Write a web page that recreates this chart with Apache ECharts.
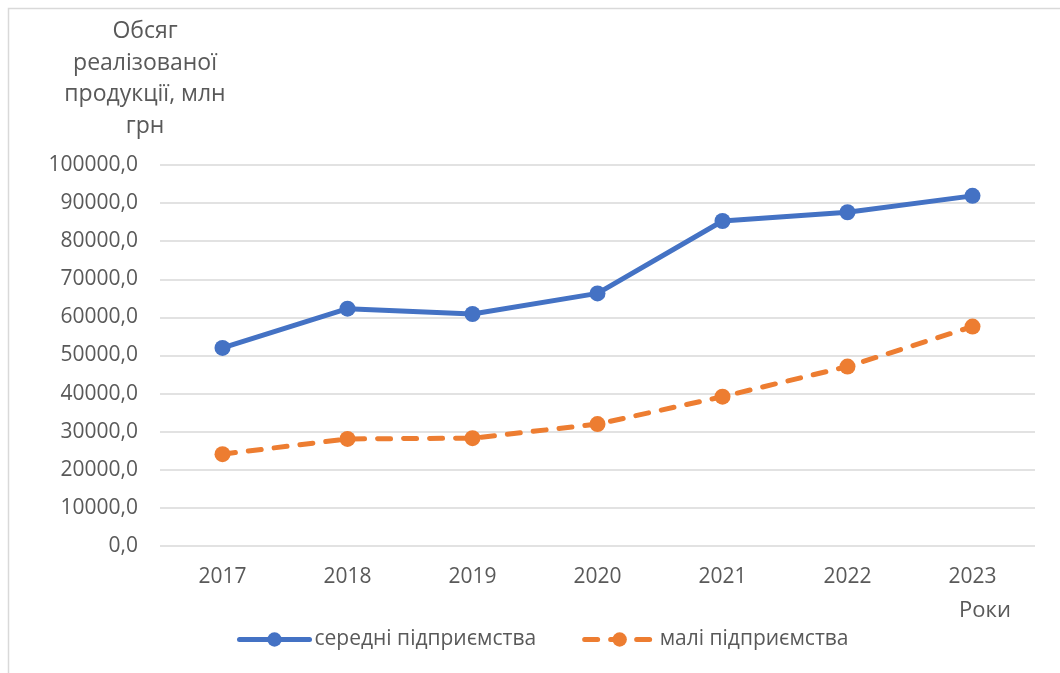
<!DOCTYPE html>
<html>
<head>
<meta charset="utf-8">
<script src="https://cdn.jsdelivr.net/npm/echarts@6/dist/echarts.min.js"></script>
<style>
  html, body { margin: 0; padding: 0; background: #fff; }
  #chart { width: 1060px; height: 673px; }
</style>
</head>
<body>
<div id="chart"></div>
<script>
// data
const years = ['2017', '2018', '2019', '2020', '2021', '2022', '2023'];
const medium = [52000, 62300, 60900, 66300, 85300, 87600, 91900];
const small = [24100, 28100, 28300, 32000, 39200, 47100, 57600];
const seriesNames = ['середні підприємства', 'малі підприємства'];

const font = '"Open Sans", "Noto Sans", sans-serif';
const textColor = '#595959';

const myChart = echarts.init(document.getElementById('chart'));
const option = {
  animation: false,
  textStyle: { fontFamily: font },
  grid: { left: 160, right: 25, top: 165, bottom: 127 },
  legend: {
    left: 232,
    top: 624,
    itemWidth: 70,
    itemHeight: 18,
    itemGap: 46,
    lineStyle: { width: 5, cap: 'round' },
    textStyle: { fontSize: 21, color: textColor, fontFamily: font },
    data: seriesNames,
  },
  graphic: [
    {
      type: 'polyline',
      shape: { points: [[8.5, 673], [8.5, 8.5], [1060, 8.5]] },
      style: { stroke: '#d9d9d9', lineWidth: 1.5, fill: null },
      silent: true,
    },
    {
      type: 'text',
      style: {
        x: 145,
        y: 16,
        text: 'Обсяг\nреалізованої\nпродукції, млн\nгрн',
        align: 'center',
        fontSize: 23,
        lineHeight: 31.5,
        fontFamily: font,
        fill: textColor,
      },
    },
    {
      type: 'text',
      style: {
        x: 985,
        y: 600,
        text: 'Роки',
        align: 'center',
        fontSize: 22,
        fontFamily: font,
        fill: textColor,
      },
    },
  ],
  xAxis: {
    type: 'category',
    data: years,
    boundaryGap: true,
    axisLine: { show: false },
    axisTick: { show: false },
    axisLabel: { fontSize: 21, color: textColor, margin: 21, fontFamily: font },
  },
  yAxis: {
    type: 'value',
    min: 0,
    max: 100000,
    interval: 10000,
    axisLine: { show: false },
    axisTick: { show: false },
    axisLabel: {
      fontSize: 21,
      color: textColor,
      margin: 22,
      fontFamily: font,
      formatter: (v) => v.toFixed(1).replace('.', ','),
    },
    splitLine: { lineStyle: { color: '#d9d9d9', width: 1.5 } },
  },
  series: [
    {
      name: seriesNames[0],
      type: 'line',
      data: medium,
      symbol: 'circle',
      symbolSize: 16,
      itemStyle: { color: '#4472C4' },
      lineStyle: { color: '#4472C4', width: 5, cap: 'round' },
    },
    {
      name: seriesNames[1],
      type: 'line',
      data: small,
      symbol: 'circle',
      symbolSize: 16,
      itemStyle: { color: '#ED7D31' },
      lineStyle: { color: '#ED7D31', width: 5, type: [13, 13], cap: 'round' },
    },
  ],
};
myChart.setOption(option);
</script>
</body>
</html>
